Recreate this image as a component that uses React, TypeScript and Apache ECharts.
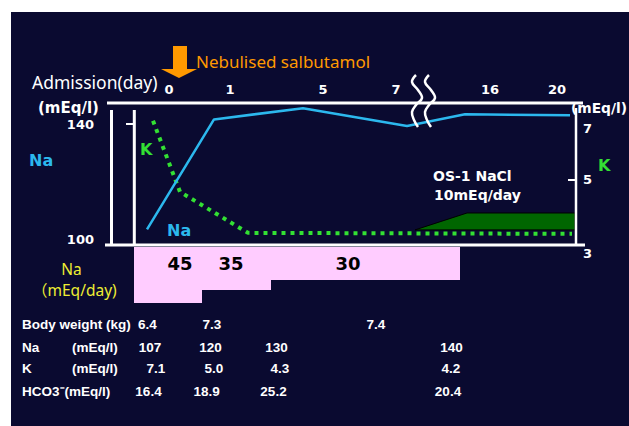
import React, { useEffect, useRef } from 'react';
import * as echarts from 'echarts';

// ---- data ----
const dayLabels = ['0', '1', '5', '7', '16', '20'];
const dayTickPos = [35, 96, 189, 262, 356, 423]; // position on the (broken) time line

const naPos = [13, 80, 169, 273, 331, 436];
const naValues = [105.2, 141.6, 145.3, 139.4, 143.3, 143.0];

const kPos = [19, 46, 114, 438];
const kValues = [6.79, 4.62, 3.37, 3.34];

const os1Pos = [281, 333, 441];
const os1Base = [105.0, 105.0, 105.0];
const os1Top = [105.0, 110.6, 110.6];

const naDoseStepPos = [0, 68, 137, 326];
const naDoseDepth = [45, 34.6, 26.5, 26.5];
const naDoseLabels = ['45', '35', '30'];
const naDoseLabelPos = [46, 97, 214];

const naAxisTicks = [100, 140];
const kAxisTicks = [3, 5, 7];

const tableRowNames = ['Body weight (kg)', 'Na', 'K', 'HCO3⁻(mEq/l)'];
const tableUnit = '(mEq/l)';
const bodyWeight = ['6.4', '7.3', '', '7.4', ''];
const naTable = ['107', '120', '130', '', '140'];
const kTable = ['7.1', '5.0', '4.3', '', '4.2'];
const hco3Table = ['16.4', '18.9', '25.2', '', '20.4'];

// ---- layout ----
const tableRowY = [324, 347, 368.5, 391];
const tableColX = [
  [147.5, 212, 0, 376, 0],
  [150, 210.5, 276.5, 0, 451.5],
  [156, 214, 280, 0, 451],
  [148.5, 206.7, 273.5, 0, 448],
];

const NAVY = '#0a0a30';
const WHITE = '#ffffff';
const BLUE = '#2cb8ee';
const GREEN = '#33e033';
const ORANGE = '#ff9900';
const YELLOW = '#eeee33';
const PINK = '#ffccff';

const shadow = { textShadowColor: '#000', textShadowOffsetX: 1, textShadowOffsetY: 1, textShadowBlur: 0 };

function txt(text: string, x: number, y: number, font: string, fill: string, align = 'left', extra: any = {}) {
  return {
    type: 'text',
    x,
    y,
    z: 120,
    style: { text, font, fill, align, verticalAlign: 'middle', ...extra },
  };
}

function line(x1: number, y1: number, x2: number, y2: number, w = 3) {
  return {
    type: 'line',
    z: 110,
    shape: { x1, y1, x2, y2 },
    style: { stroke: WHITE, lineWidth: w },
  };
}

export default function App() {
  const ref = useRef<HTMLDivElement>(null);

  useEffect(() => {
    if (!ref.current) return;
    const chart = echarts.init(ref.current, null, { renderer: 'svg' });

    const tableData = [bodyWeight, naTable, kTable, hco3Table];
    const tableFont = 'bold 13.5px "Liberation Sans", Arial, sans-serif';
    const tableTexts: any[] = [];
    tableRowNames.forEach((name, r) => {
      tableTexts.push(txt(name, 22, tableRowY[r], tableFont, WHITE, 'left', shadow));
      if (r === 1 || r === 2) tableTexts.push(txt(tableUnit, 72, tableRowY[r], tableFont, WHITE, 'left', shadow));
      tableData[r].forEach((v, c) => {
        if (v) tableTexts.push(txt(v, tableColX[r][c], tableRowY[r], tableFont, WHITE, 'center', shadow));
      });
    });

    const squiggle = (dx: number) => ({
      type: 'polyline',
      z: 115,
      shape: {
        points: [
          [416 + dx, 75], [412 + dx, 82], [418 + dx, 90], [422 + dx, 98],
          [416 + dx, 105], [412 + dx, 112], [414 + dx, 120], [418 + dx, 127],
        ],
        smooth: 0.4,
      },
      style: { stroke: WHITE, lineWidth: 2.5, fill: null },
    });

    const dejaBold = (s: number) => `bold ${s}px "DejaVu Sans", sans-serif`;
    const noto = (s: number) => `${s}px "Noto Sans", "Noto Sans CJK JP", sans-serif`;

    const option: any = {
      animation: false,
      tooltip: { show: false },
      grid: [
        { left: 134, right: 53, top: 104, bottom: 181 },
        { left: 134, right: 53, top: 247, height: 56 },
      ],
      xAxis: [
        {
          gridIndex: 0,
          type: 'value',
          min: 0,
          max: 442,
          position: 'top',
          axisLine: { show: false },
          axisTick: { show: false },
          splitLine: { show: false },
          axisLabel: {
            customValues: dayTickPos,
            formatter: (v: number) => {
              const i = dayTickPos.indexOf(v);
              return i >= 0 ? dayLabels[i] : '';
            },
            color: WHITE,
            fontFamily: 'DejaVu Sans',
            fontWeight: 'bold',
            fontSize: 13,
            margin: 8,
          },
        },
        { gridIndex: 1, type: 'value', min: 0, max: 442, show: false },
      ],
      yAxis: [
        {
          gridIndex: 0,
          type: 'value',
          min: 100,
          max: 146.7,
          position: 'left',
          offset: 22,
          axisLine: { show: false },
          splitLine: { show: false },
          axisTick: { show: true, customValues: [140], length: 8, lineStyle: { color: WHITE, width: 2 } },
          axisLabel: {
            customValues: naAxisTicks,
            margin: 18,
            formatter: (v: number) => (v === 100 ? '{lo|100}' : '{n|' + v + '}'),
            rich: {
              n: { color: WHITE, fontFamily: 'DejaVu Sans', fontWeight: 'bold', fontSize: 13 },
              lo: { color: WHITE, fontFamily: 'DejaVu Sans', fontWeight: 'bold', fontSize: 13, padding: [0, 0, 12, 0] },
            },
          },
        },
        {
          gridIndex: 0,
          type: 'value',
          min: 3,
          max: 7.3,
          position: 'right',
          offset: 0,
          axisLine: { show: false },
          splitLine: { show: false },
          axisTick: { show: true, inside: true, customValues: [5], length: 8, lineStyle: { color: WHITE, width: 2 } },
          axisLabel: {
            customValues: kAxisTicks,
            margin: 7,
            formatter: (v: number) => (v === 7 ? '{a|7}' : v === 3 ? '{b|3}' : '{n|' + v + '}'),
            rich: {
              n: { color: WHITE, fontFamily: 'DejaVu Sans', fontWeight: 'bold', fontSize: 13 },
              a: { color: WHITE, fontFamily: 'DejaVu Sans', fontWeight: 'bold', fontSize: 13, padding: [30, 0, 0, 0] },
              b: { color: WHITE, fontFamily: 'DejaVu Sans', fontWeight: 'bold', fontSize: 13, padding: [16, 0, 0, 0] },
            },
          },
        },
        { gridIndex: 1, type: 'value', min: 0, max: 45, inverse: true, show: false },
      ],
      series: [
        {
          name: 'Na dose',
          type: 'line',
          xAxisIndex: 1,
          yAxisIndex: 2,
          step: 'end',
          symbol: 'none',
          lineStyle: { width: 0 },
          areaStyle: { color: PINK, opacity: 1 },
          data: naDoseStepPos.map((p, i) => [p, naDoseDepth[i]]),
          z: 1,
        },
        {
          name: 'Na dose label',
          type: 'scatter',
          xAxisIndex: 1,
          yAxisIndex: 2,
          symbolSize: 1,
          itemStyle: { opacity: 0 },
          data: naDoseLabelPos.map((p) => [p, 12.9]),
          label: {
            show: true,
            position: 'inside',
            formatter: (p: any) => naDoseLabels[p.dataIndex],
            color: '#000000',
            opacity: 1,
            textBorderWidth: 0,
            fontFamily: 'DejaVu Sans',
            fontWeight: 'bold',
            fontSize: 18,
          },
          z: 3,
        },
        {
          name: 'OS-1 NaCl',
          type: 'custom',
          xAxisIndex: 0,
          yAxisIndex: 0,
          coordinateSystem: 'cartesian2d',
          data: os1Pos.map((p, i) => [p, os1Top[i], os1Base[i]]),
          renderItem: (params: any, api: any) => {
            if (params.dataIndex !== 0) return null;
            const top = os1Pos.map((p, i) => api.coord([p, os1Top[i]]));
            const base = os1Pos.map((p, i) => api.coord([p, os1Base[i]])).reverse();
            return {
              type: 'polygon',
              shape: { points: top.concat(base) },
              style: { fill: '#006600', stroke: '#000', lineWidth: 1 },
            };
          },
          z: 2,
        },
        {
          name: 'K',
          type: 'line',
          xAxisIndex: 0,
          yAxisIndex: 1,
          symbol: 'none',
          lineStyle: { color: GREEN, width: 4, type: [4, 5], cap: 'butt' },
          data: kPos.map((p, i) => [p, kValues[i]]),
          z: 4,
        },
        {
          name: 'Na',
          type: 'line',
          xAxisIndex: 0,
          yAxisIndex: 0,
          symbol: 'none',
          lineStyle: { color: BLUE, width: 2.5 },
          data: naPos.map((p, i) => [p, naValues[i]]),
          z: 5,
        },
      ],
      graphic: {
        elements: [
          { type: 'rect', z: -100, shape: { x: 11, y: 12, width: 618, height: 414 }, style: { fill: NAVY } },
          // frame
          line(107, 103, 583, 103),
          line(105, 245, 585, 245),
          line(111.5, 110, 111.5, 246),
          line(134.3, 110, 134.3, 246),
          line(576, 108, 576, 245, 2.5),
          squiggle(0),
          squiggle(13),
          // arrow
          {
            type: 'polygon',
            z: 110,
            shape: {
              points: [[173, 46], [187, 46], [187, 69], [197, 69], [179, 78], [161, 69], [173, 69]],
            },
            style: { fill: ORANGE },
          },
          txt('Nebulised salbutamol', 196, 61, noto(17), ORANGE),
          txt('Admission(day)', 32, 82, noto(17.5), WHITE),
          txt('(mEq/l)', 38, 108, dejaBold(15), WHITE, 'left', shadow),
          txt('(mEq/l)', 571, 108, dejaBold(13.8), WHITE, 'left', shadow),
          txt('Na', 29, 160, dejaBold(16), BLUE, 'left', shadow),
          txt('K', 140, 149, dejaBold(16), GREEN),
          txt('Na', 167, 230, dejaBold(16), BLUE),
          txt('K', 598, 165, dejaBold(16), GREEN),
          txt('OS-1 NaCl', 433, 176, dejaBold(14), WHITE),
          txt('10mEq/day', 434, 195, dejaBold(14), WHITE),
          txt('Na', 71.5, 269, noto(15.5), YELLOW, 'center'),
          txt('（mEq/day)', 32, 290, noto(15.5), YELLOW, 'left'),
          ...tableTexts,
        ],
      },
    };

    chart.setOption(option);
    return () => chart.dispose();
  }, []);

  return (
    <div style={{ position: 'fixed', left: 0, top: 0, width: 629, height: 426, background: '#ffffff' }}>
      <div ref={ref} style={{ width: 629, height: 426 }} />
    </div>
  );
}
